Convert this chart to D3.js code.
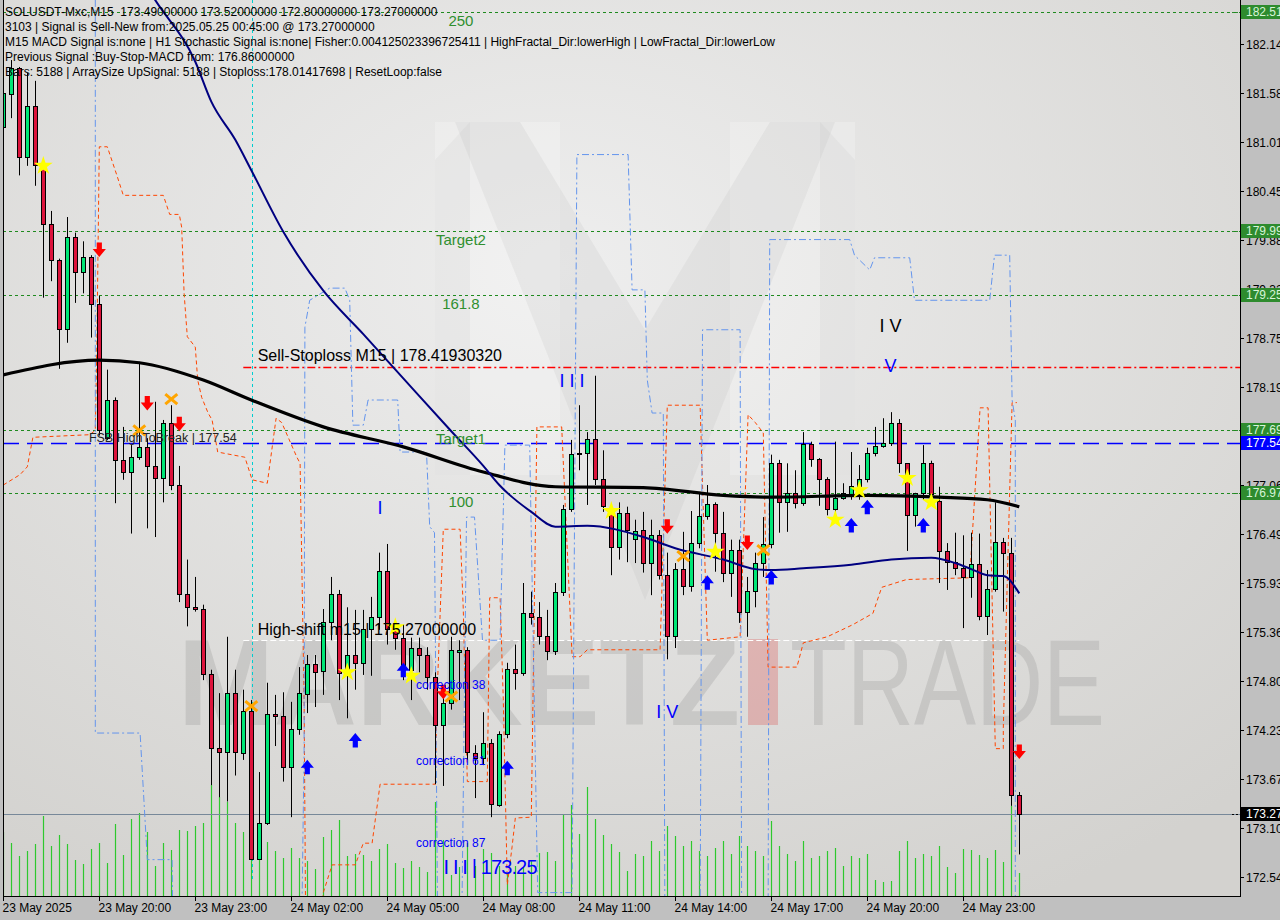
<!DOCTYPE html>
<html><head><meta charset="utf-8">
<script src="https://cdn.jsdelivr.net/npm/d3@7"></script>
<style>html,body{margin:0;padding:0;background:#c0c0c0;overflow:hidden}svg{display:block}text{font-family:"Liberation Sans",Arial,sans-serif}</style>
</head><body><svg id="c" width="1280" height="920"></svg>
<script>
// ---------------- DATA ----------------
const opens=[181.19,181.57,181.87,180.84,181.43,180.75,180.07,179.65,178.86,179.92,179.52,179.69,179.15,177.60,178.04,177.35,177.21,177.38,177.50,177.28,177.14,177.78,177.06,175.80,175.65,175.63,174.88,174.03,173.98,174.66,173.97,174.45,172.75,173.16,174.42,174.40,173.81,174.25,174.65,175.00,174.92,175.48,175.80,174.89,175.10,175.01,175.40,175.54,176.07,175.40,175.30,174.93,175.18,175.10,174.85,174.29,174.55,175.14,175.16,173.97,173.91,174.09,173.37,174.19,174.94,174.89,175.58,175.54,175.32,175.15,175.83,176.78,177.43,177.43,177.59,177.13,176.74,176.35,176.74,176.44,176.54,176.16,176.48,176.02,175.32,176.09,175.90,176.39,176.70,176.84,176.51,176.05,176.31,175.60,175.84,176.16,176.38,177.31,176.86,176.97,176.85,177.53,177.36,177.13,176.78,176.91,176.93,177.05,177.13,177.43,177.51,177.54,177.78,177.31,176.71,176.97,177.31,176.88,176.30,176.17,176.10,176.00,176.15,175.55,175.86,176.40,176.28,173.49];
const highs=[181.67,181.96,181.88,181.81,181.72,180.77,180.22,179.67,180.15,179.97,179.87,179.71,179.24,178.39,178.07,177.73,177.52,178.48,177.60,178.02,177.81,177.98,177.28,176.20,176.00,175.68,174.93,174.66,175.31,174.93,174.70,174.58,173.75,174.78,174.64,174.67,174.56,174.96,175.10,175.10,175.63,176.00,175.85,175.65,175.62,175.62,175.77,176.28,176.38,175.50,175.45,175.30,175.30,175.19,174.90,174.70,175.31,175.27,175.19,174.06,174.44,174.13,174.22,175.01,175.22,175.93,175.83,175.71,175.62,175.93,176.83,177.58,177.98,177.67,178.32,177.46,176.81,176.86,176.81,176.66,176.75,176.66,176.54,176.28,176.16,176.52,176.76,176.98,177.06,176.86,176.75,176.43,176.43,176.00,176.28,176.69,177.41,177.35,177.31,177.23,177.67,177.56,177.37,177.15,177.56,177.08,177.44,177.29,177.49,177.73,177.83,177.90,177.82,177.31,176.97,177.52,177.34,177.04,176.39,176.51,176.48,176.51,176.50,176.08,176.86,176.45,176.45,173.52];
const lows=[180.95,181.29,180.63,180.74,180.51,179.22,179.41,178.40,178.70,179.16,179.27,178.76,177.63,177.58,176.85,177.12,176.50,177.35,176.56,176.46,176.86,177.00,175.71,175.43,175.60,174.81,173.60,173.46,173.41,173.71,173.89,172.74,172.74,173.14,174.05,173.64,173.23,174.18,174.43,174.50,174.64,175.27,174.58,174.37,174.70,174.87,174.86,175.39,175.22,175.16,174.81,174.58,174.90,174.70,173.61,173.59,174.47,174.58,173.89,173.45,173.83,173.23,173.35,174.14,174.70,174.86,175.45,175.22,175.04,175.10,175.78,176.75,177.23,176.83,177.06,176.75,176.02,176.20,176.17,176.16,176.05,175.79,175.97,175.05,175.18,175.79,175.83,176.33,176.66,176.06,175.94,175.77,175.47,175.31,175.65,176.00,176.33,176.51,176.52,176.79,176.82,177.27,176.82,176.71,176.75,176.89,176.89,176.89,177.09,177.39,177.49,177.51,177.20,176.30,176.58,176.89,176.89,175.93,175.85,176.02,175.41,175.76,175.50,175.33,175.83,175.60,173.36,172.80];
const closes=[181.58,181.87,180.84,181.43,180.75,180.07,179.65,178.86,179.92,179.52,179.69,179.15,177.69,178.04,177.35,177.21,177.38,177.50,177.28,177.14,177.78,177.06,175.80,175.65,175.63,174.88,174.03,173.98,174.66,173.98,174.45,172.75,173.16,174.42,174.40,173.81,174.25,174.66,175.00,174.90,175.48,175.80,174.89,175.10,175.01,175.40,175.54,176.07,175.40,175.30,174.93,175.18,175.10,174.85,174.29,174.55,175.16,175.16,173.98,173.91,174.09,173.38,174.19,174.94,174.89,175.58,175.54,175.32,175.15,175.83,176.78,177.42,177.43,177.59,177.13,176.82,176.35,176.74,176.54,176.53,176.16,176.48,176.02,175.32,176.09,175.90,176.39,176.70,176.84,176.51,176.05,176.31,175.60,175.84,176.16,176.38,177.31,176.86,176.97,176.85,177.53,177.36,177.13,176.78,176.91,176.97,177.05,177.13,177.43,177.51,177.54,177.78,177.31,176.71,176.97,177.31,176.96,176.30,176.17,176.10,176.00,176.15,175.55,175.86,176.40,176.28,173.49,173.27];
const volumes=[64,53,40,45,52,80,50,61,52,36,32,47,53,33,72,41,77,83,64,30,53,46,66,65,70,73,111,99,94,73,64,101,54,54,45,38,48,38,35,27,
59,66,76,40,42,41,35,47,52,33,28,35,29,24,94,56,21,29,53,30,47,43,30,23,30,29,36,43,44,35,81,91,62,109,77,61,52,44,25,42,
40,55,45,70,60,50,55,45,40,48,55,42,60,50,45,40,75,50,42,35,55,38,40,45,48,30,40,38,42,16,14,15,45,55,38,42,40,50,29,23,47,46,41,38,46,34,90,23];

// moving averages (candle index, price)
const maSlowIdx=[0,12,17,25,31,40,50,60,69,80,90,96,108,117,123,127];
const maSlowVal=[178.33,178.50,178.47,178.27,178.04,177.73,177.50,177.21,177.04,177.03,176.94,176.92,176.94,176.92,176.89,176.81];
const maFastIdx=[15,19,24,26,29,31,35,40,45,50,56,60,62,66,69,73,80,84,90,94,96,100,106,111,116,119,121,123,125,127];
const maFastVal=[183.23,182.65,181.94,181.48,181.04,180.69,179.98,179.30,178.80,178.29,177.68,177.28,177.06,176.75,176.58,176.59,176.46,176.33,176.20,176.09,176.08,176.10,176.14,176.20,176.22,176.16,176.09,176.02,176.01,175.81];

// step channel lines (candle index, price)
const orangeIdx=[0,2.1,3.0,3.7,10.8,11.5,11.7,12.0,13.0,14.2,15.0,20.0,20.8,22.0,22.3,22.6,23.0,24.0,24.3,24.8,25.6,26.1,26.8,30.2,31.1,33.0,34.1,34.8,36.7,37.1,37.6,37.8,39.6,40.0,41.1,44.0,45.0,46.1,47.1,54.0,54.2,55.0,57.1,57.5,58.0,60.5,60.8,62.1,62.5,63.0,63.6,64.0,66.0,66.7,69.8,71.1,72.1,73.0,82.1,83.0,87.1,88.0,92.1,93.1,94.0,95.0,95.6,99.2,100.0,103.0,106.2,108.7,109.8,112.9,120.8,122.1,123.1,124.0,125.0,125.0,126.1,126.7];
const orangeVal=[177.06,177.18,177.27,177.61,177.64,177.69,178.70,180.96,180.96,180.63,180.40,180.40,180.18,180.18,180.03,179.27,178.77,178.65,178.27,178.07,177.89,177.81,177.44,177.38,177.12,177.08,177.83,177.78,177.38,177.31,174.58,171.93,171.93,172.36,172.68,172.68,172.93,172.93,173.61,173.61,174.58,176.55,176.55,175.62,173.64,173.64,175.76,175.76,174.58,172.45,172.89,173.22,173.23,177.73,177.73,175.08,175.08,175.16,175.16,177.98,177.98,175.27,175.31,177.87,177.78,177.66,174.96,174.96,175.24,175.31,175.45,175.58,175.88,175.97,175.99,177.95,177.95,174.02,174.02,174.26,178.01,178.01];
const blueIdx=[11.5,11.5,17.1,18.0,21.1,21.2,37.3,37.6,37.7,38.3,40.8,42.7,43.3,43.7,45.0,45.6,49.3,49.6,52.9,53.3,53.9,54.3,57.3,57.9,58.9,59.9,62.1,62.7,65.8,66.8,71.1,71.7,78.1,78.6,80.2,80.5,81.1,82.5,82.7,87.1,87.4,92.1,92.3,95.6,95.8,105.8,106.4,108.3,108.9,113.3,113.9,123.3,123.9,125.8,126.1,126.5,126.5];
const blueVal=[183.00,174.20,174.20,172.74,172.74,171.93,171.93,174.00,178.88,179.19,179.33,179.33,179.19,177.75,177.75,178.04,178.04,177.44,177.44,176.58,176.51,171.93,171.93,176.69,176.69,175.27,175.27,177.52,177.52,172.36,172.36,180.87,180.87,179.31,179.31,178.27,177.89,177.89,171.93,171.93,178.85,178.85,171.93,171.93,179.89,179.89,179.71,179.54,179.68,179.68,179.19,179.19,179.71,179.71,178.04,177.81,171.93];
const cyanIdx=31.1;

// horizontal levels
const fiboLevels=[182.512,179.99,179.25,177.69,176.97];
const fiboNames=["250","Target2","161.8","Target1","100"];
const fsbLevel=177.54, sellStop=178.4193032, highShift=175.27, bidPrice=173.27;

// signal markers (candle index, price)
const starIdx=[5,43,49,51,76,89,104,107,113,116];
const starVal=[180.74,174.90,175.42,174.86,176.76,176.29,176.66,177.00,177.14,176.86];
const downIdx=[12,18,22,55,83,93,127];
const downVal=[179.77,178.00,177.76,174.67,176.58,176.39,173.98];
const upIdx=[38,44,50,63,88,96,106,108,115];
const upVal=[173.81,174.12,174.93,173.80,175.94,176.00,176.60,176.81,176.60];
const crossIdx=[17,21,31,56,85,95];
const crossVal=[177.69,178.05,174.51,174.62,176.24,176.31];

// wave / correction labels (anchor index, price)
const waveText=["I","I I I","I V","V","I V","I I I | 173.25"];
const waveIdx=[47.1,71.1,110.9,110.9,83.0,60.9];
const waveVal=[176.79,178.26,178.89,178.43,174.44,172.64];
const corrText=["correction 38","correction 61","correction 87"];
const corrIdx=[51.6,51.6,51.6];
const corrVal=[174.75,173.88,172.93];

// axis ticks
const priceTicks=[182.145,181.58,181.015,180.45,179.885,179.32,178.755,178.19,177.625,177.06,176.495,175.93,175.365,174.80,174.235,173.67,173.105,172.54];
const timeTickIdx=[0,12,24,36,48,60,72,84,96,108,120];
const timeTickLabels=["23 May 2025","23 May 20:00","23 May 23:00","24 May 02:00","24 May 05:00","24 May 08:00","24 May 11:00","24 May 14:00","24 May 17:00","24 May 20:00","24 May 23:00"];

const headerLines=[
"SOLUSDT-Mxc,M15\u00a0\u00a0173.49000000 173.52000000 172.80000000 173.27000000",
"3103 | Signal is Sell-New from:2025.05.25 00:45:00 @ 173.27000000",
"M15 MACD Signal is:none | H1 Stochastic Signal is:none| Fisher:0.004125023396725411 | HighFractal_Dir:lowerHigh | LowFractal_Dir:lowerLow",
"Previous Signal :Buy-Stop-MACD from: 176.86000000",
"Bars: 5188 | ArraySize UpSignal: 5188 | Stoploss:178.01417698 | ResetLoop:false"];

// ---------------- DRAW ----------------
const L=3,R=1240,T=0,B=896;
const svg=d3.select("#c");
const xS=d3.scaleLinear().domain([0,127]).range([3.3,1019.3]);
const yS=d3.scaleLinear().domain([172.54,182.145]).range([877,44]);
const vS=d3.scaleLinear().domain([0,150]).range([B,B-150]);

const defs=svg.append("defs");
const rg=defs.append("radialGradient").attr("id","bg").attr("cx","0.45").attr("cy","0.3").attr("r","0.8");
rg.append("stop").attr("offset","0").attr("stop-color","#eeeeee");
rg.append("stop").attr("offset","1").attr("stop-color","#d3d2cf");
defs.append("clipPath").attr("id","clip").append("rect").attr("x",L).attr("y",T).attr("width",R-L).attr("height",B-T);

svg.append("rect").attr("width",1280).attr("height",920).attr("fill","#c0c0c0");
svg.append("rect").attr("x",L).attr("y",T).attr("width",R-L).attr("height",B-T).attr("fill","url(#bg)");
const g=svg.append("g").attr("clip-path","url(#clip)");

// watermark
const wm=g.append("g");
wm.append("rect").attr("x",435).attr("y",122).attr("width",125).attr("height",353).attr("fill","rgba(255,255,255,0.22)");
wm.append("rect").attr("x",730).attr("y",122).attr("width",125).attr("height",353).attr("fill","rgba(255,255,255,0.22)");
wm.append("path").attr("d","M455,122 L520,122 L645,330 L770,122 L835,122 L645,600 Z").attr("fill","rgba(150,150,150,0.10)");
wm.append("path").attr("d","M435,160 L470,122 L470,475 L435,475 Z M820,122 L855,160 L855,475 L820,475 Z").attr("fill","rgba(150,150,150,0.08)");
wm.append("text").attr("x",178).attr("y",725).attr("font-size",122).attr("font-weight","bold")
  .attr("textLength",562).attr("lengthAdjust","spacingAndGlyphs").attr("fill","rgba(120,120,120,0.20)").text("MARKETZ");
wm.append("rect").attr("x",748).attr("y",639).attr("width",30).attr("height",86).attr("fill","rgba(220,70,70,0.28)");
wm.append("text").attr("x",790).attr("y",725).attr("font-size",122)
  .attr("textLength",315).attr("lengthAdjust","spacingAndGlyphs").attr("fill","rgba(120,120,120,0.20)").text("TRADE");

const candles=d3.range(opens.length).map(i=>({i,o:opens[i],h:highs[i],l:lows[i],c:closes[i],v:volumes[i]}));
const px=i=>Math.round(xS(i));

// volumes
g.append("g").selectAll("line").data(candles).join("line")
  .attr("x1",d=>px(d.i)+0.5).attr("x2",d=>px(d.i)+0.5).attr("y1",B).attr("y2",d=>vS(d.v))
  .attr("stroke","#2ec82e").attr("stroke-width",1.2);

// levels
const hl=(v,x1,col,dash,w)=>g.append("line").attr("x1",x1).attr("x2",R).attr("y1",Math.round(yS(v))+0.5).attr("y2",Math.round(yS(v))+0.5)
  .attr("stroke",col).attr("stroke-width",w||1).attr("stroke-dasharray",dash);
fiboLevels.forEach(v=>hl(v,L,"#1f8a1f","3,3"));
hl(fsbLevel,L,"#0000ff","16,8",1.3);
hl(sellStop,xS(30),"#ff0000","8,3,2,3",1.3);
g.append("line").attr("x1",xS(30)).attr("x2",xS(127)).attr("y1",Math.round(yS(highShift))+0.5).attr("y2",Math.round(yS(highShift))+0.5)
  .attr("stroke","#ffffff").attr("stroke-dasharray","6,3");
hl(bidPrice,L,"#778899",null);

// cyan vertical
g.append("line").attr("x1",Math.round(xS(cyanIdx))+0.5).attr("x2",Math.round(xS(cyanIdx))+0.5).attr("y1",0).attr("y2",880)
  .attr("stroke","#00ced1").attr("stroke-dasharray","3,3");

// step channel lines
const stepLine=d3.line().x(d=>xS(d[0])).y(d=>yS(d[1]));
g.append("path").attr("d",stepLine(orangeIdx.map((v,k)=>[v,orangeVal[k]]))).attr("fill","none")
  .attr("stroke","#ff4500").attr("stroke-width",1).attr("stroke-dasharray","4,3");
g.append("path").attr("d",stepLine(blueIdx.map((v,k)=>[v,blueVal[k]]))).attr("fill","none")
  .attr("stroke","#6495ed").attr("stroke-width",1).attr("stroke-dasharray","7,3,2,3");

// candles
const cg=g.append("g");
cg.selectAll("line").data(candles).join("line")
  .attr("x1",d=>px(d.i)+0.5).attr("x2",d=>px(d.i)+0.5).attr("y1",d=>yS(d.h)).attr("y2",d=>yS(d.l))
  .attr("stroke","#000").attr("stroke-width",1);
cg.selectAll("rect").data(candles).join("rect")
  .attr("x",d=>px(d.i)-1.5).attr("width",4)
  .attr("y",d=>Math.round(yS(Math.max(d.o,d.c)))+0.5)
  .attr("height",d=>Math.max(1,Math.round(yS(Math.min(d.o,d.c)))-Math.round(yS(Math.max(d.o,d.c)))))
  .attr("fill",d=>d.c>=d.o?"#00e676":"#dc143c").attr("stroke","#000").attr("stroke-width",1);

// moving averages
const maLine=d3.line().x(d=>xS(d[0])).y(d=>yS(d[1])).curve(d3.curveMonotoneX);
g.append("path").attr("d",maLine(maSlowIdx.map((v,k)=>[v,maSlowVal[k]]))).attr("fill","none").attr("stroke","#000").attr("stroke-width",3.2);
g.append("path").attr("d",maLine(maFastIdx.map((v,k)=>[v,maFastVal[k]]))).attr("fill","none").attr("stroke","#000080").attr("stroke-width",2);

// markers
const mg=g.append("g");
starIdx.forEach((v,k)=>mg.append("path").attr("d",d3.symbol(d3.symbolStar,110)()).attr("transform",`translate(${xS(v)},${yS(starVal[k])})`).attr("fill","#ffff00"));
const arrow="M-2.6,-7.5 h5.2 v6.5 h4 l-6.6,8 l-6.6,-8 h4 z";
downIdx.forEach((v,k)=>mg.append("path").attr("d",arrow).attr("transform",`translate(${xS(v)},${yS(downVal[k])})`).attr("fill","#ff0000"));
upIdx.forEach((v,k)=>mg.append("path").attr("d",arrow).attr("transform",`translate(${xS(v)},${yS(upVal[k])}) rotate(180)`).attr("fill","#0000ff"));
crossIdx.forEach((v,k)=>mg.append("path").attr("d","M-6,-5 L6,5 M6,-5 L-6,5").attr("transform",`translate(${xS(v)},${yS(crossVal[k])})`)
  .attr("stroke","#ffa500").attr("stroke-width",3).attr("fill","none"));

// texts in chart
const tg=g.append("g");
fiboNames.forEach((t,k)=>tg.append("text").attr("x",xS(57.2)).attr("y",yS(fiboLevels[k])+14).attr("text-anchor","middle")
  .attr("font-size",15).attr("fill","#2f8f2f").text(t));
tg.append("text").attr("x",xS(31.8)).attr("y",yS(sellStop)-6).attr("font-size",16).attr("fill","#000").text("Sell-Stoploss M15 | 178.41930320");
tg.append("text").attr("x",xS(31.8)).attr("y",yS(highShift)-5).attr("font-size",16).attr("fill","#000").text("High-shift m15 | 175.27000000");
tg.append("text").attr("x",xS(10.7)).attr("y",yS(fsbLevel)-1).attr("font-size",12.5).attr("fill","#222").text("FSB HighToBreak | 177.54");
const waveCol=["#0000ff","#0000ff","#000000","#0000ff","#0000ff","#0000ff"];
const waveSize=[18,18,18,18,18,20];
waveText.forEach((t,k)=>{const tx=tg.append("text").attr("x",xS(waveIdx[k])).attr("y",yS(waveVal[k])+6).attr("text-anchor","middle")
  .attr("font-size",waveSize[k]).attr("fill",waveCol[k]).text(t); if(k===5) tx.attr("textLength",94);});
corrText.forEach((t,k)=>tg.append("text").attr("x",xS(corrIdx[k])).attr("y",yS(corrVal[k])+4).attr("font-size",12).attr("fill","#0000ff").text(t));

// borders
svg.append("line").attr("x1",L+0.5).attr("x2",L+0.5).attr("y1",0).attr("y2",B).attr("stroke","#000");
svg.append("line").attr("x1",R+0.5).attr("x2",R+0.5).attr("y1",0).attr("y2",B+0.5).attr("stroke","#000");
svg.append("line").attr("x1",L).attr("x2",R+1).attr("y1",B+0.5).attr("y2",B+0.5).attr("stroke","#000");

// price axis
const ax=svg.append("g");
priceTicks.forEach(v=>{const yy=Math.round(yS(v))+0.5;
  ax.append("line").attr("x1",R).attr("x2",R+4).attr("y1",yy).attr("y2",yy).attr("stroke","#000");
  ax.append("text").attr("x",R+6).attr("y",yy+4).attr("font-size",12).attr("fill","#000").text(v.toFixed(3));});
const box=(v,bg,fg)=>{const yy=Math.round(yS(v));
  ax.append("rect").attr("x",R+1).attr("y",yy-7).attr("width",40).attr("height",14).attr("fill",bg);
  ax.append("text").attr("x",R+6).attr("y",yy+4).attr("font-size",12).attr("fill",fg).text(v.toFixed(3));
  ax.append("line").attr("x1",R-8).attr("x2",R).attr("y1",yy+0.5).attr("y2",yy+0.5).attr("stroke",bg).attr("stroke-dasharray","2,2");};
fiboLevels.forEach(v=>box(v,"#2e8b2e","#d8f5d8"));
box(fsbLevel,"#0000ff","#ffffff");
box(bidPrice,"#000000","#ffffff");

// time axis
timeTickIdx.forEach((v,k)=>{const xx=Math.round(xS(v))+0.5;
  ax.append("line").attr("x1",xx).attr("x2",xx).attr("y1",B).attr("y2",B+5).attr("stroke","#000");
  ax.append("text").attr("x",xx-1).attr("y",912).attr("font-size",12).attr("fill","#000").text(timeTickLabels[k]);});

// header
headerLines.forEach((t,k)=>svg.append("text").attr("x",5).attr("y",16+15*k).attr("font-size",12).attr("fill","#000").text(t));
</script></body></html>
